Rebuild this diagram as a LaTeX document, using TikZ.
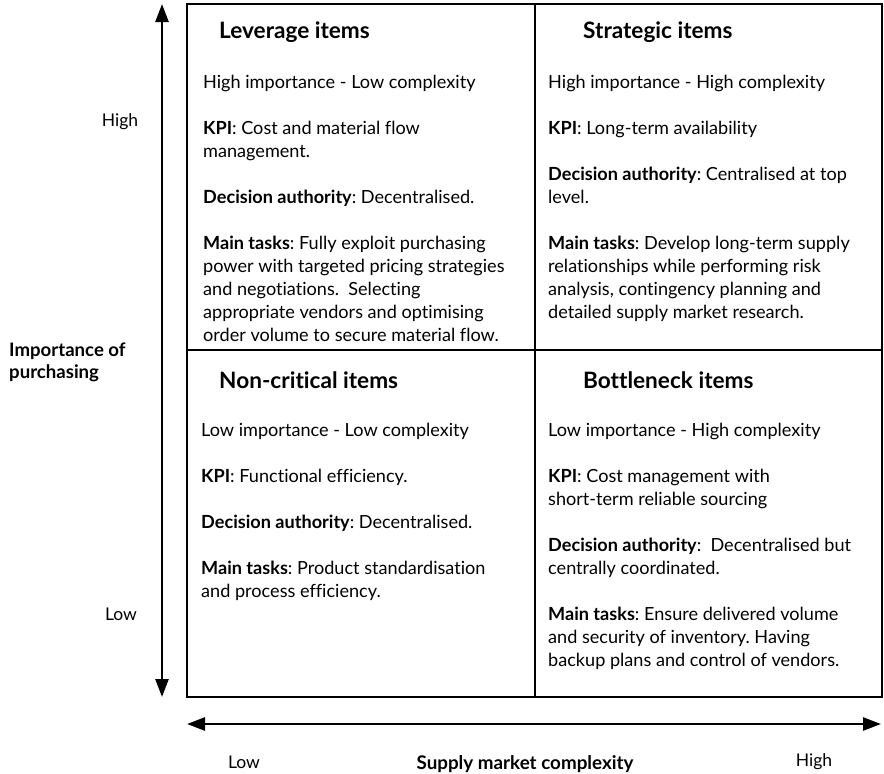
\documentclass[tikz,border=0pt]{standalone}
\usepackage{fontspec}
\setmainfont{Lato}[Ligatures=NoCommon]
\frenchspacing
\usetikzlibrary{arrows.meta}
\begin{document}
\begin{tikzpicture}[x=1pt,y=-1pt,
  frame/.style={line width=2.6pt},
  axis/.style={line width=2.6pt,{Triangle[length=18pt,width=13pt]}-{Triangle[length=18pt,width=13pt]}},
  title/.style={anchor=base west,inner sep=0pt,font=\fontsize{22.6}{26}\selectfont\bfseries},
  body/.style={anchor=north west,inner sep=0pt,align=left,font=\fontsize{18.1}{23}\selectfont},
  axlabel/.style={inner sep=0pt,font=\fontsize{17.5}{20}\selectfont},
]
\useasboundingbox (0,0) rectangle (884,774);

% matrix frame
\coordinate (tl) at (187,4);
\coordinate (br) at (882,697);
\coordinate (mt) at (535,4);
\coordinate (mb) at (535,697);
\coordinate (ml) at (187,350);
\coordinate (mr) at (882,350);
\draw[frame] (tl) rectangle (br);
\draw[frame] (mt) -- (mb);
\draw[frame] (ml) -- (mr);

% axes
\coordinate (vtop) at (162,4);
\coordinate (vbot) at (162,697);
\coordinate (hleft) at (187,724);
\coordinate (hright) at (881,724);
\draw[axis] (vtop) -- (vbot);
\draw[axis] (hleft) -- (hright);

% axis labels
\node[axlabel] (yhigh) at (120,122) {High};
\node[axlabel] (ylow) at (121,614) {Low};
\node[anchor=north west,inner sep=0pt,align=left,font=\fontsize{18.6}{22}\selectfont\bfseries] (ytitle) at (9,343) {Importance of\\purchasing};
\node[axlabel] (xlow) at (244,762) {Low};
\node[axlabel] (xhigh) at (814,762) {High};
\node[anchor=base,inner sep=0pt,font=\fontsize{18.8}{20}\selectfont\bfseries] (xtitle) at (525,769) {Supply market complexity};

% quadrant titles
\node[title] (lev) at (219,38) {Leverage items};
\node[title] (str) at (583,38) {Strategic items};
\node[title] (non) at (219,388) {Non-critical items};
\node[title] (bot) at (583,388) {Bottleneck items};

% quadrant contents
\node[body] (levtxt) at (203,75) {High importance - Low complexity\\[23pt]
\textbf{KPI}: Cost and material flow\\
management.\\[23pt]
\textbf{Decision authority}: Decentralised.\\[23pt]
\textbf{Main tasks}: Fully exploit purchasing\\
power with targeted pricing strategies\\
and negotiations.\ \ Selecting\\
appropriate vendors and optimising\\
order volume to secure material flow.};

\node[body] (strtxt) at (548,75) {High importance - High complexity\\[23pt]
\textbf{KPI}: Long-term availability\\[23pt]
\textbf{Decision authority}: Centralised at top\\
level.\\[23pt]
\textbf{Main tasks}: Develop long-term supply\\
relationships while performing risk\\
analysis, contingency planning and\\
detailed supply market research.};

\node[body] (nontxt) at (201,423) {Low importance - Low complexity\\[23pt]
\textbf{KPI}: Functional efficiency.\\[23pt]
\textbf{Decision authority}: Decentralised.\\[23pt]
\textbf{Main tasks}: Product standardisation\\
and process efficiency.};

\node[body] (bottxt) at (548,423) {Low importance - High complexity\\[23pt]
\textbf{KPI}: Cost management with\\
short-term reliable sourcing\\[23pt]
\textbf{Decision authority}:\ \ Decentralised but\\
centrally coordinated.\\[23pt]
\textbf{Main tasks}: Ensure delivered volume\\
and security of inventory. Having\\
backup plans and control of vendors.};
\end{tikzpicture}
\end{document}
